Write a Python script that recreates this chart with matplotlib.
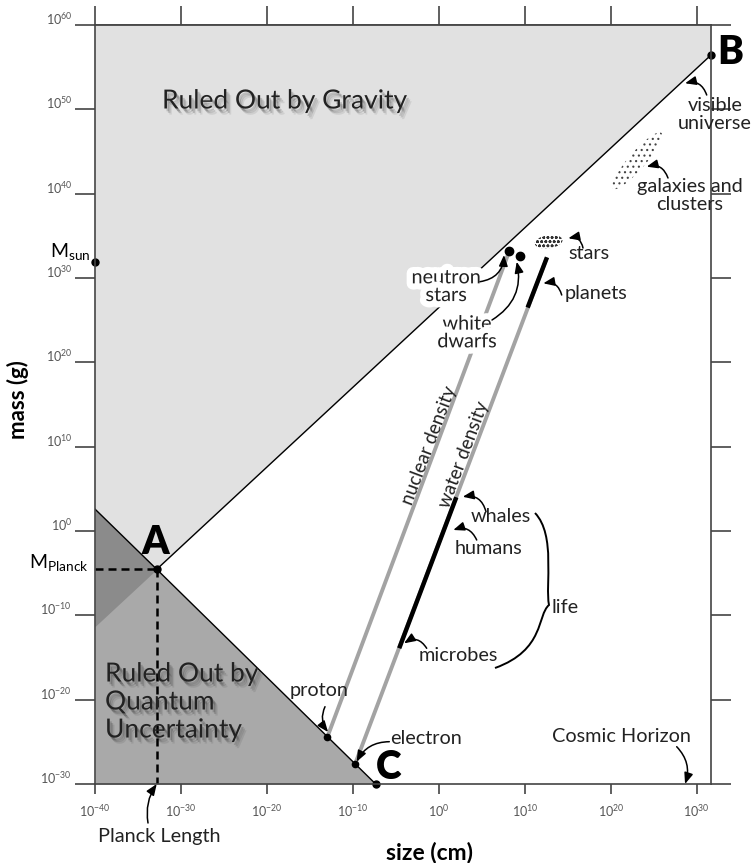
import numpy as np
import matplotlib
matplotlib.use('Agg')
import matplotlib.pyplot as plt
import matplotlib.ticker as mticker
from matplotlib import patheffects as pe
from matplotlib import transforms as mtransforms
from matplotlib.patches import Ellipse, PathPatch
from matplotlib.path import Path

plt.rcParams['font.family'] = ['Lato', 'DejaVu Sans']
plt.rcParams['mathtext.fontset'] = 'custom'
plt.rcParams['mathtext.rm'] = 'Lato'
plt.rcParams['mathtext.it'] = 'Lato:italic'
plt.rcParams['mathtext.bf'] = 'Lato:bold'
plt.rcParams['hatch.linewidth'] = 0.8

# ---------------- data (log10 size in cm, log10 mass in g) ----------------
size_tick_exp = [-40, -30, -20, -10, 0, 10, 20, 30]
mass_tick_exp = [-30, -20, -10, 0, 10, 20, 30, 40, 50, 60]
size_range_exp = [-40.0, 31.66]
mass_range_exp = [-30.0, 60.0]

gravity_size_exp = [-40.0, -32.82, 31.66]
gravity_mass_exp = [-11.33, -4.54, 56.44]
quantum_size_exp = [-40.0, -32.82, -7.35]
quantum_mass_exp = [2.6, -4.54, -30.0]

planck_exp = [-32.82, -4.54]      # point A
point_b_exp = [31.66, 56.44]
point_c_exp = [-7.35, -30.0]
sun_mass_exp = 31.9

object_size_exp = [-12.96, -9.73, 8.2, 9.44]     # proton, electron, neutron star, white dwarf
object_mass_exp = [-24.4, -27.6, 33.2, 32.61]

nuclear_size_exp = [-12.96, 8.2]
nuclear_mass_exp = [-24.4, 33.2]
water_size_exp = [-9.73, 12.58]
water_mass_exp = [-27.6, 32.45]
life_size_exp = [-4.61, 2.03]
life_mass_exp = [-13.9, 4.0]
planets_size_exp = [10.33, 12.58]
planets_mass_exp = [26.5, 32.45]
stars_center_exp = [12.77, 34.3]
galaxies_center_exp = [23.06, 43.9]

# annotation targets (log10 size, log10 mass)
target_names = ['proton', 'electron', 'cosmic', 'planck', 'neutron', 'dwarf', 'stars',
                'planets', 'visible', 'galaxies', 'whales', 'humans', 'microbes']
target_size_exp = [-12.89, -9.56, 28.64, -32.82, 7.58, 9.06, 15.06, 12.15, 28.64, 24.18, 2.78, 1.68, -4.05]
target_mass_exp = [-23.84, -27.36, -30.0, -30.0, 32.73, 31.93, 34.71, 29.37, 53.09, 43.2, 4.06, 0.12, -13.32]


def E(v):
    return 10.0 ** np.asarray(v, dtype=float)


# ---------------- layout ----------------
W, H = 754, 863
AX_L, AX_R, AX_T, AX_B = 95, 711, 25, 784


def fr(px, py):
    return ((px - AX_L) / (AX_R - AX_L), (AX_B - py) / (AX_B - AX_T))


fig = plt.figure(figsize=(W / 100, H / 100), dpi=100)
ax = fig.add_axes([AX_L / W, (H - AX_B) / H, (AX_R - AX_L) / W, (AX_B - AX_T) / H])
ax.set_xscale('log')
ax.set_yscale('log')
ax.set_xlim(E(size_range_exp))
ax.set_ylim(E(mass_range_exp))

LIGHT, MID, DARK = '#e1e1e1', '#a9a9a9', '#8b8b8b'
# ruled out by gravity
ax.fill_between(E([gravity_size_exp[0], gravity_size_exp[-1]]),
                E([gravity_mass_exp[0], gravity_mass_exp[-1]]),
                E(mass_range_exp[1]), color=LIGHT, lw=0, zorder=1)
# ruled out by quantum uncertainty
ax.fill_between(E([quantum_size_exp[0], quantum_size_exp[-1]]),
                E(mass_range_exp[0]),
                E([quantum_mass_exp[0], quantum_mass_exp[-1]]), color=MID, lw=0, zorder=1)
# overlap
ax.fill_between(E(gravity_size_exp[:2]), E(gravity_mass_exp[:2]), E(quantum_mass_exp[:2]),
                color=DARK, lw=0, zorder=1.5)

ax.plot(E(gravity_size_exp[1:]), E(gravity_mass_exp[1:]), color='k', lw=1.0, zorder=3)
ax.plot(E(quantum_size_exp), E(quantum_mass_exp), color='k', lw=1.0, zorder=3)

# Planck dashed lines
dash = (0, (3.2, 2.0))
ax.plot(E([size_range_exp[0], planck_exp[0]]), E([planck_exp[1], planck_exp[1]]),
        color='k', lw=1.8, linestyle=dash, zorder=4)
ax.plot(E([planck_exp[0], planck_exp[0]]), E([planck_exp[1], mass_range_exp[0]]),
        color='k', lw=1.8, linestyle=dash, zorder=4)

# density lines
ax.plot(E(nuclear_size_exp), E(nuclear_mass_exp), color='#a3a3a3', lw=2.8, zorder=3,
        solid_capstyle='butt')
ax.plot(E(water_size_exp), E(water_mass_exp), color='#a3a3a3', lw=2.8, zorder=3,
        solid_capstyle='butt')
ax.plot(E(life_size_exp), E(life_mass_exp), color='k', lw=3.2, zorder=4, solid_capstyle='butt')
ax.plot(E(planets_size_exp), E(planets_mass_exp), color='k', lw=3.2, zorder=4, solid_capstyle='butt')

# dots
ax.plot(E(object_size_exp[:2]), E(object_mass_exp[:2]), 'o', color='k', ms=4.5, zorder=5)
ax.plot(E(object_size_exp[2:]), E(object_mass_exp[2:]), 'o', color='k', ms=6, zorder=5)
ax.plot(E([planck_exp[0], point_b_exp[0], point_c_exp[0], size_range_exp[0]]),
        E([planck_exp[1], point_b_exp[1], point_c_exp[1], sun_mass_exp]),
        'o', color='k', ms=5, zorder=6, clip_on=False)

# stars & galaxies blobs (sizes in inches around data centre)
st = fig.dpi_scale_trans + mtransforms.ScaledTranslation(*E(stars_center_exp), ax.transData)
ax.add_patch(Ellipse((0, 0), 0.28, 0.13, angle=8, transform=st, fc='white', ec='#333',
                     lw=0, hatch='oooo', zorder=4))
gt = fig.dpi_scale_trans + mtransforms.ScaledTranslation(*E(galaxies_center_exp), ax.transData)
ax.add_patch(Ellipse((0, 0), 0.74, 0.17, angle=49, transform=gt, fc='none', ec='#444',
                     lw=0, hatch='...', zorder=4))

# ---------------- axes styling ----------------
for s in ax.spines.values():
    s.set_color('#444')
    s.set_linewidth(1.2)
    s.set_zorder(7)
ax.set_xticks(E(size_tick_exp))
ax.set_yticks(E(mass_tick_exp))
ax.xaxis.set_minor_locator(mticker.NullLocator())
ax.yaxis.set_minor_locator(mticker.NullLocator())
ax.tick_params(axis='y', direction='out', length=14.4, width=1.2, color='#444',
               left=True, right=True, labelleft=False, labelright=False)
ax.tick_params(axis='x', direction='out', length=7.5, width=1.2, color='#444',
               bottom=True, top=False, labelbottom=False, labeltop=False)
sec = ax.secondary_xaxis('top')
sec.set_xticks(E(size_tick_exp))
sec.xaxis.set_minor_locator(mticker.NullLocator())
sec.tick_params(axis='x', direction='out', length=13.7, width=1.2, color='#444', labeltop=False)
sec.spines['top'].set_color('#444')
sec.spines['top'].set_linewidth(1.2)

ytr = mtransforms.blended_transform_factory(ax.transAxes, ax.transData)
for e in mass_tick_exp:
    ax.text((72 - AX_L) / (AX_R - AX_L), 10.0 ** e, r'$10^{%d}$' % e, transform=ytr,
            ha='right', va='baseline', fontsize=9, color='#555')
xtr = mtransforms.blended_transform_factory(ax.transData, ax.transAxes)
for e in size_tick_exp:
    ax.text(10.0 ** e, (AX_B - 817) / (AX_B - AX_T), r'$10^{%d}$' % e, transform=xtr,
            ha='center', va='baseline', fontsize=9, color='#555')

fig.text(430 / W, 1 - 852 / H, 'size (cm)', ha='center', va='center', fontsize=16.5,
         fontweight='bold')
fig.text(18 / W, 1 - 400 / H, 'mass (g)', ha='center', va='center', fontsize=16,
         fontweight='bold', rotation=90)

# ---------------- texts ----------------
shadow = [pe.SimplePatchShadow(offset=(1.5, -2), shadow_rgbFace='k', alpha=0.16),
          pe.SimplePatchShadow(offset=(2.5, -3.2), shadow_rgbFace='k', alpha=0.14),
          pe.SimplePatchShadow(offset=(3.5, -4.4), shadow_rgbFace='k', alpha=0.08),
          pe.Normal()]
ax.text(*fr(162, 101), 'Ruled Out by Gravity', transform=ax.transAxes, ha='left',
        va='center', fontsize=19, color='#222', path_effects=shadow, zorder=8)
ax.text(*fr(105, 702), 'Ruled Out by\nQuantum\nUncertainty', transform=ax.transAxes,
        ha='left', va='center', fontsize=19, color='#222', path_effects=shadow, zorder=8,
        linespacing=1.15)

for (px, py, s) in [(155, 543, 'A'), (730, 53, 'B'), (389, 767, 'C')]:
    ax.text(*fr(px, py), s, transform=ax.transAxes, ha='center', va='center',
            fontsize=28, fontweight='heavy', color='k', zorder=8, clip_on=False)

ax.text(*fr(91, 257), r'M$_{\rm sun}$', transform=ax.transAxes, ha='right',
        va='baseline', fontsize=14, zorder=8)
ax.text(*fr(89, 568), r'M$_{\rm Planck}$', transform=ax.transAxes, ha='right',
        va='baseline', fontsize=14, zorder=8)

glow = [pe.withStroke(linewidth=9, foreground='white')]
labels = [
    (319.5, 690, 'proton', None),
    (425.7, 738.3, 'electron', None),
    (621, 736.7, 'Cosmic Horizon', None),
    (159, 836.7, 'Planck Length', None),
    (446, 286.7, 'neutron\nstars', glow),
    (467, 333, 'white\ndwarfs', glow),
    (589, 253, 'stars', None),
    (596, 293.3, 'planets', None),
    (690, 195.5, 'galaxies and\nclusters', None),
    (715, 114.7, 'visible\nuniverse', None),
    (501, 516.7, 'whales', None),
    (488, 548.3, 'humans', None),
    (458.3, 655, 'microbes', None),
]
for px, py, s, eff in labels:
    ax.text(*fr(px, py), s, transform=ax.transAxes, ha='center', va='center', fontsize=14.3,
            color='#222', linespacing=1.05, path_effects=eff, zorder=8, clip_on=False)
ax.text(*fr(551.7, 607.7), 'life', transform=ax.transAxes, ha='left', va='center',
        fontsize=14.3, color='#222', zorder=8)

ax.text(*fr(429, 445), 'nuclear density', transform=ax.transAxes, ha='center', va='center',
        rotation=69.3, fontsize=13.5, color='#222', zorder=8)
ax.text(*fr(464, 455), 'water density', transform=ax.transAxes, ha='center', va='center',
        rotation=69.3, fontsize=13.5, color='#222', zorder=8)

# arrows
arrow_starts = {
    'proton': ((325, 706.7), 0.3), 'electron': ((389.3, 741.7), 0.3),
    'cosmic': ((676.7, 746.7), -0.3), 'planck': ((148, 823), -0.2),
    'neutron': ((480, 281.7), 0.4), 'dwarf': ((492, 320), 0.35),
    'stars': ((583, 248), 0.5), 'planets': ((561.7, 295), 0.45),
    'visible': ((706.7, 95), 0.45), 'galaxies': ((668, 178), 0.45),
    'whales': ((486, 511.7), 0.45), 'humans': ((476.7, 540), 0.45),
    'microbes': ((426.7, 648.3), 0.5),
}
for name, sx, sy in zip(target_names, target_size_exp, target_mass_exp):
    (spx, spy), rad = arrow_starts[name]
    ax.annotate('', xy=(10.0 ** sx, 10.0 ** sy), xycoords='data',
                xytext=fr(spx, spy), textcoords='axes fraction',
                arrowprops=dict(arrowstyle='-|>,head_length=0.55,head_width=0.22',
                                connectionstyle='arc3,rad=%g' % rad, color='k', lw=1.1,
                                shrinkA=0, shrinkB=0, mutation_scale=12),
                annotation_clip=False, zorder=8)

# curly brace for "life"
bp = [(535, 513), (556, 535), (545, 585), (549, 605), (537, 615), (545, 650), (495, 668)]
verts = [fr(x, y) for x, y in bp]
codes = [Path.MOVETO, Path.CURVE4, Path.CURVE4, Path.CURVE4, Path.CURVE4, Path.CURVE4, Path.CURVE4]
ax.add_patch(PathPatch(Path(verts, codes), transform=ax.transAxes, fc='none', ec='k',
                       lw=1.4, zorder=8))

fig.savefig('out.png', dpi=100, facecolor='white')
